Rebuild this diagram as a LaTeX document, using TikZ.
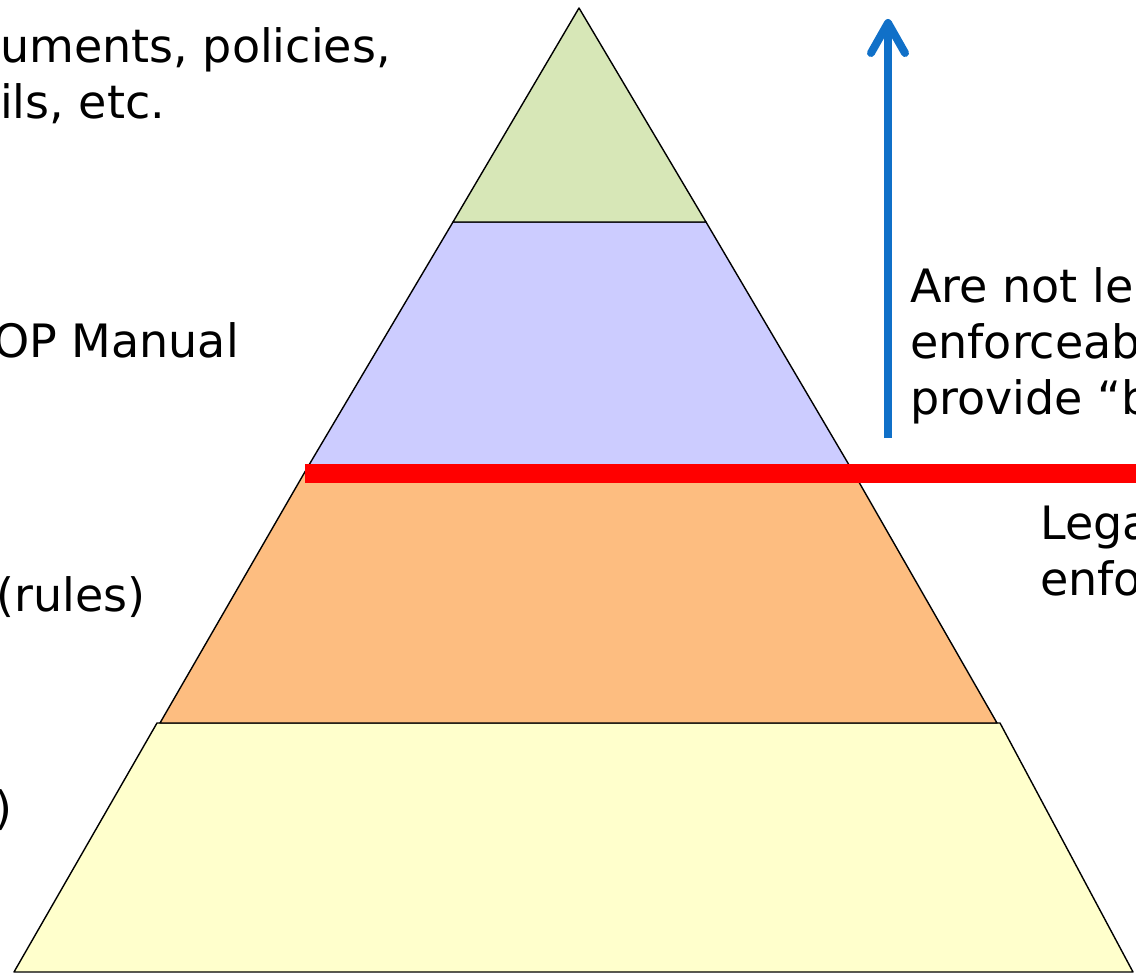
\documentclass[tikz,border=0pt]{standalone}
\usepackage{fontspec}
\setmainfont{DejaVu Sans}
\usepackage{tikz}
\usetikzlibrary{arrows.meta}
\definecolor{tiergreen}{HTML}{D7E7B7}
\definecolor{tierblue}{HTML}{CCCCFF}
\definecolor{tierorange}{HTML}{FDBD80}
\definecolor{tieryellow}{HTML}{FFFFCC}
\definecolor{arrowblue}{HTML}{1070C8}
\begin{document}
\begin{tikzpicture}[x=1pt,y=-1pt]
\tikzset{tier/.style = {draw=black,line width=1.4pt,line join=round}}
\tikzset{label/.style = {inner sep=0pt,font=\fontsize{46}{56}\selectfont,align=left}}
\tikzset{redline/.style = {draw=red,line width=19pt}}
\tikzset{uparrow/.style = {draw=arrowblue,line width=8pt,
  -{Straight Barb[length=30pt,width=34pt,line cap=round,line join=round]}}}
\useasboundingbox (0,0) rectangle (1136,976);
\clip (0,0) rectangle (1136,976);
% tiers
\filldraw[tier,fill=tieryellow] (157,723) -- (1000,723) -- (1133,972) -- (14,972) -- cycle;
\filldraw[tier,fill=tierorange] (306,470) -- (852,470) -- (997,723) -- (160,723) -- cycle;
\filldraw[tier,fill=tierblue] (453,222) -- (706,222) -- (852,470) -- (306,470) -- cycle;
\filldraw[tier,fill=tiergreen] (579,8) -- (706,222) -- (453,222) -- cycle;
% divider and arrow
\coordinate (rl) at (305,473);
\coordinate (rr) at (1150,473);
\draw[redline] (rl) -- (rr);
\coordinate (ab) at (888,438);
\coordinate (at) at (888,19);
\draw[uparrow] (ab) -- (at);
% labels
\node[label,anchor=base west] (docs) at (0,119) {uments, policies,\\ils, etc.};
\node[label,anchor=base east] (sop) at (239,358) {OP Manual};
\node[label,anchor=base east] (rules) at (146,611) {(rules)};
\node[label,anchor=base east] (law) at (13,824) {)};
\node[label,anchor=base west] (notlegal) at (910,415) {Are not le\\enforceab\\provide “b};
\node[label,anchor=base west] (legal) at (1040,595) {Lega\\enfo};
\end{tikzpicture}
\end{document}
